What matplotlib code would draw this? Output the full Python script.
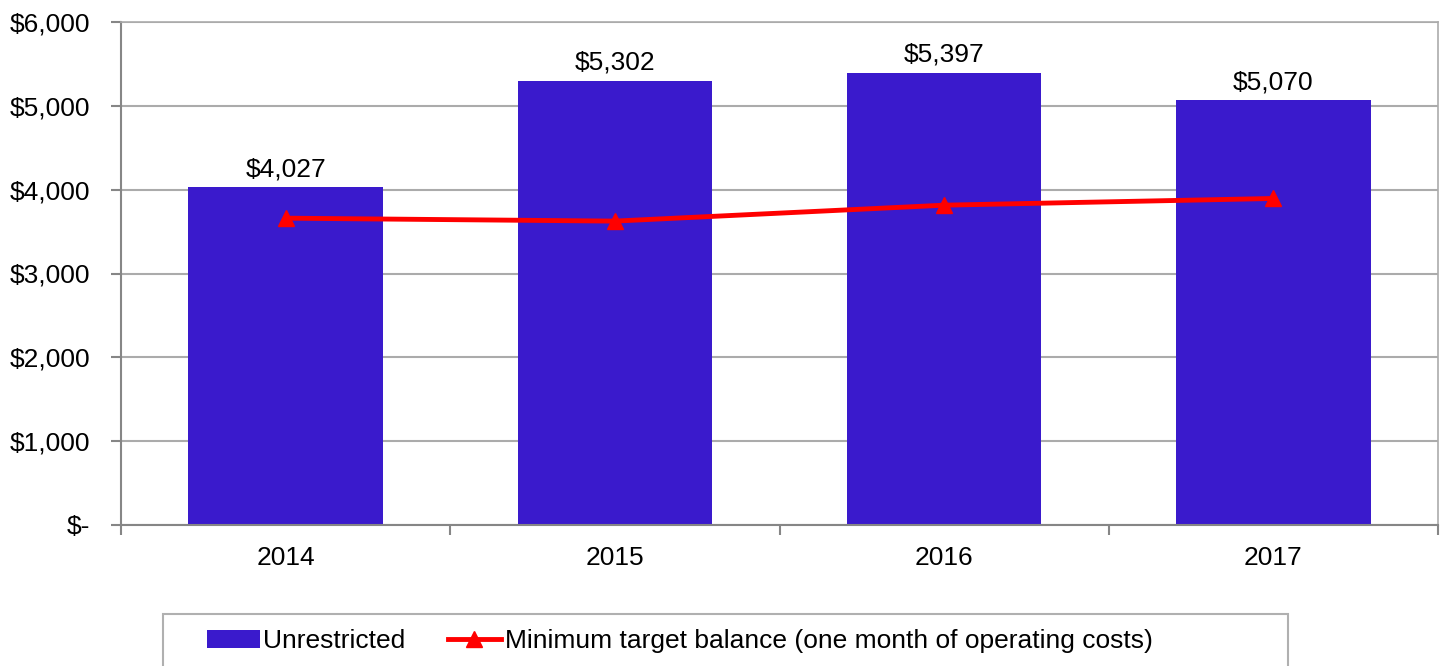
import matplotlib.pyplot as plt
from matplotlib.patches import Rectangle
from matplotlib.ticker import FuncFormatter

plt.rcParams['font.family'] = ['Liberation Sans', 'DejaVu Sans']

# data
years = ['2014', '2015', '2016', '2017']
unrestricted = [4027, 5302, 5397, 5070]
min_target = [3660, 3625, 3815, 3895]

bar_color = '#3A1ACC'
line_color = '#FF0000'
grid_color = '#ABABAB'
axis_color = '#868686'
fs = 19


def money(v, pos=None):
    if v == 0:
        return '$-'
    return '${:,.0f}'.format(v)


fig = plt.figure(figsize=(14.45, 6.66), dpi=100)
ax = fig.add_axes([121 / 1445, 1 - 525 / 666, (1438 - 121) / 1445, (525 - 22) / 666])

x = list(range(len(years)))
bars = ax.bar(x, unrestricted, width=0.59, color=bar_color, zorder=2,
              label='Unrestricted')
line, = ax.plot(x, min_target, color=line_color, lw=3.5, marker='^', ms=12,
                zorder=3, label='Minimum target balance (one month of operating costs)')

for xi, v in zip(x, unrestricted):
    ax.annotate(money(v), (xi, v), xytext=(0, 4), textcoords='offset points',
                ha='center', va='bottom', fontsize=fs)

ax.set_xlim(-0.5, len(years) - 0.5)
ax.set_ylim(0, 6000)
ax.set_yticks(range(0, 6001, 1000))
ax.yaxis.set_major_formatter(FuncFormatter(money))
ax.set_xticks(x)
ax.set_xticklabels(years)
ax.set_xticks([i - 0.5 for i in range(len(years) + 1)], minor=True)

ax.tick_params(axis='y', length=7, width=1.5, color=axis_color, pad=15, labelsize=fs)
ax.tick_params(axis='x', which='major', length=0, pad=15, labelsize=fs)
ax.tick_params(axis='x', which='minor', length=7, width=1.5, color=axis_color)

ax.grid(axis='y', color=grid_color, lw=1.5, zorder=0)
ax.set_axisbelow(True)
for side in ['left', 'bottom']:
    ax.spines[side].set_color(axis_color)
    ax.spines[side].set_linewidth(1.5)
for side in ['top', 'right']:
    ax.spines[side].set_color(grid_color)
    ax.spines[side].set_linewidth(1.2)

# legend box (extends past bottom edge like the original)
fig.patches.append(Rectangle((163 / 1445, -0.1), (1288 - 163) / 1445, 0.1 + 1 - 614 / 666,
                             transform=fig.transFigure, fill=False,
                             edgecolor='#B0B0B0', lw=1.5))
fig.legend([bars, line], [bars.get_label(), line.get_label()],
           loc='center left', bbox_to_anchor=(183 / 1445, 1 - 641 / 666),
           ncol=2, frameon=False, fontsize=fs, handlelength=2.0,
           handleheight=0.7, handletextpad=0.15, columnspacing=1.6)

fig.savefig('out.png', dpi=100)
